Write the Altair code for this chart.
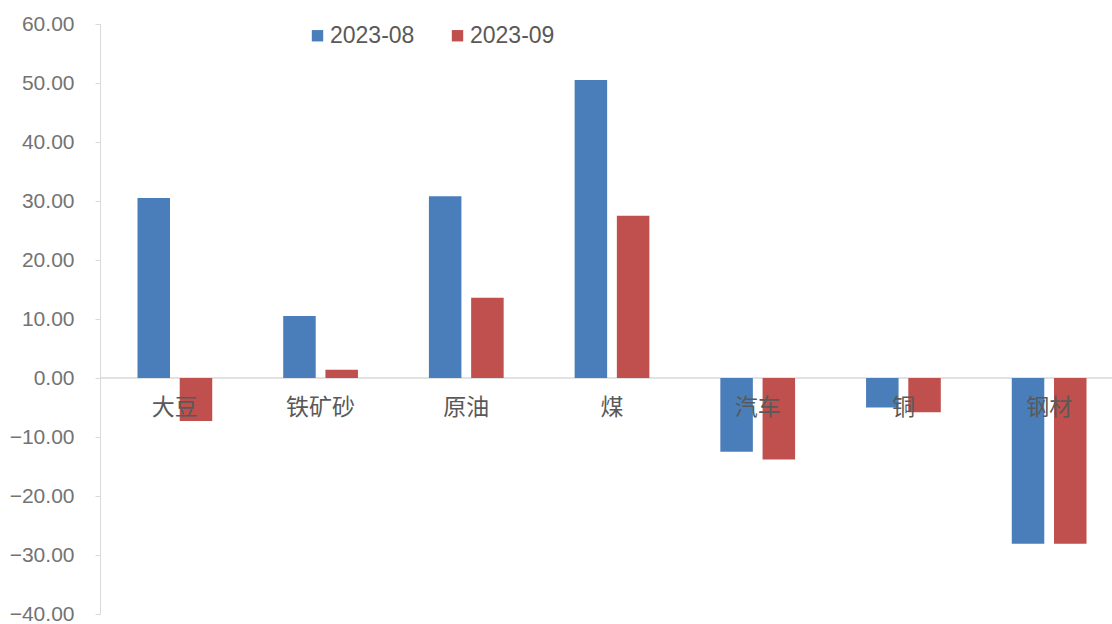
import altair as alt
import pandas as pd

categories = ["大豆", "铁矿砂", "原油", "煤", "汽车", "铜", "钢材"]
series = ["2023-08", "2023-09"]
aug = [30.5, 10.5, 30.8, 50.5, -12.5, -5.0, -28.1]
sep = [-7.3, 1.4, 13.6, 27.5, -13.8, -5.8, -28.1]
colors = ["#4a7ebb", "#c0504d"]

rows = []
for c, a, s in zip(categories, aug, sep):
    rows.append({"cat": c, "series": series[0], "value": a})
    rows.append({"cat": c, "series": series[1], "value": s})
df = pd.DataFrame(rows)
cat_df = pd.DataFrame({"cat": categories})

CJK = "Noto Sans CJK SC"
NUM = "Liberation Sans"

xscale = alt.Scale(domain=categories, range=[2, 1022], paddingInner=0.487, paddingOuter=0.2435)
yscale = alt.Scale(domain=[-40, 60], nice=False, zero=False)

bars = alt.Chart(df).mark_bar().encode(
    x=alt.X("cat:N", scale=xscale, axis=None, sort=categories),
    xOffset=alt.XOffset("series:N", scale=alt.Scale(domain=series, paddingInner=0.23)),
    y=alt.Y("value:Q", scale=yscale,
            axis=alt.Axis(values=list(range(-40, 61, 10)), format=".2f", grid=False,
                          domainColor="#d9d9d9", tickColor="#d9d9d9", tickSize=5,
                          labelFontSize=21, labelColor="#737373", labelFont=NUM,
                          labelPadding=21, title=None)),
    y2=alt.datum(0),
    color=alt.Color("series:N", scale=alt.Scale(domain=series, range=colors),
                    legend=alt.Legend(title=None, orient="none", direction="horizontal",
                                      legendX=206, legendY=0, padding=0, symbolType="square",
                                      symbolSize=130, symbolStrokeWidth=0,
                                      labelFontSize=23, labelColor="#595959", labelFont=NUM,
                                      labelOffset=1, columnPadding=31)),
)

zero = alt.Chart(pd.DataFrame({"z": [0]})).mark_rule(color="#d9d9d9", strokeWidth=1.5).encode(
    y=alt.Y("z:Q", scale=yscale), x=alt.value(0), x2=alt.value(1012)
)

labels = alt.Chart(cat_df).transform_calculate(z="0").mark_text(
    fontSize=23, color="#595959", font=CJK, dy=30
).encode(
    x=alt.X("cat:N", scale=xscale, sort=categories, axis=None),
    y=alt.Y("z:Q", scale=yscale),
    text="cat:N",
)

chart = alt.layer(zero, bars, labels).properties(
    width=1012, height=590,
    autosize=alt.AutoSizeParams(type="none"),
    padding={"left": 100, "top": 24, "right": 0, "bottom": 10},
    background="white",
).configure_view(stroke=None)

chart.save("out.html", embed_options={"renderer": "svg", "actions": False})
